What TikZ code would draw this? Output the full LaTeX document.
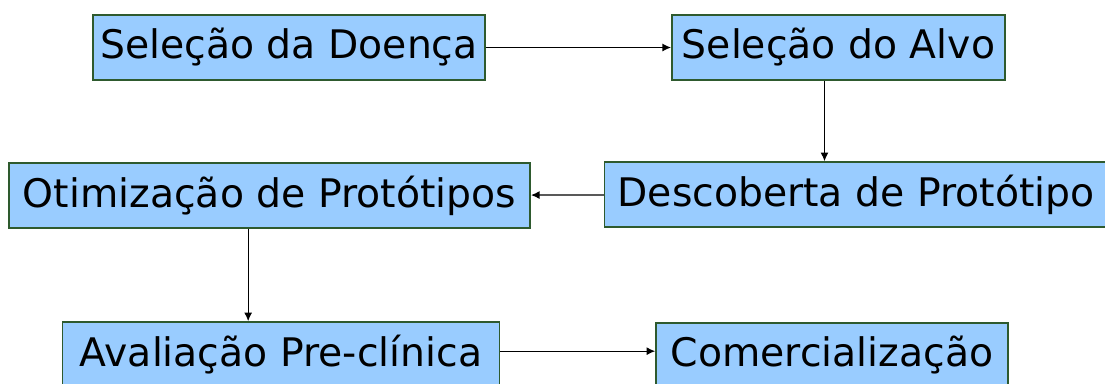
\documentclass[tikz,border=0pt]{standalone}
\usepackage{fontspec}
\setmainfont{DejaVu Sans}
\usepackage{tikz}
\usetikzlibrary{arrows.meta}
\definecolor{boxfill}{HTML}{99CCFF}
\definecolor{boxline}{HTML}{2E5A2E}
\newlength{\boxht}
\setlength{\boxht}{48.75pt}
\tikzset{stage/.style = {shape=rectangle,draw=boxline,fill=boxfill,line width=1.1pt,
  minimum height=\boxht,inner sep=0pt,font=\fontsize{29.5}{32}\selectfont}}
\tikzset{edge/.style = {-{Latex[length=6.5pt,width=6pt]},line width=1pt}}

\begin{document}
\begin{tikzpicture}[x=0.75pt,y=-0.75pt]
            \useasboundingbox (0,0) rectangle (1105,383);
            \node[stage,minimum width=294pt] (doenca) at (289,47.5) {Seleção da Doença};
            \node[stage,minimum width=250pt] (alvo) at (838.5,47.5) {Seleção do Alvo};
            \draw[edge] (doenca) -- (alvo);
            \node[stage,minimum width=377pt] (descoberta) at (856,194.5) {Descoberta de Protótipo};
            \draw[edge] ([xshift=-10.5pt]alvo.south) -- ([xshift=-10.5pt]alvo.south |- descoberta.north);
            \node[stage,minimum width=391pt] (otimizacao) at (269.5,195.5) {Otimização de Protótipos};
            \draw[edge] (descoberta) -- (otimizacao);
            \node[stage,minimum width=328pt] (avaliacao) at (281,354.5) {Avaliação Pre-clínica};
            \draw[edge] ([xshift=-16pt]otimizacao.south) -- ([xshift=-16pt]otimizacao.south |- avaliacao.north);
            \node[stage,minimum width=264pt] (comercial) at (832,355.5) {Comercialização};
            \draw[edge] ([yshift=2.5pt]avaliacao.east) -- ([yshift=2.5pt]avaliacao.east -| comercial.west);
        \end{tikzpicture}
\end{document}
